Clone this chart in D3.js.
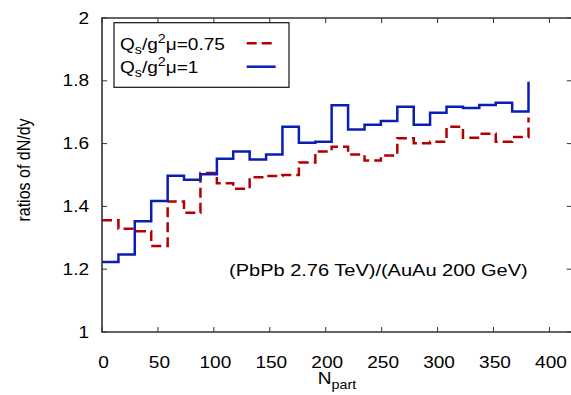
<!DOCTYPE html>
<html>
<head>
<meta charset="utf-8">
<script src="https://cdn.jsdelivr.net/npm/d3@7"></script>
<style>
  html, body { margin: 0; padding: 0; background: #fff; }
  svg { display: block; font-family: "Liberation Sans", Arial, sans-serif; }
</style>
</head>
<body>
<svg id="chart" width="571" height="395"></svg>
<script>
// ---- data ----
const npartEdges = [0, 14.7, 29.3, 44, 58.7, 73.3, 88, 102.7, 117.3, 132, 146.7, 161.3, 176,
  190.7, 205.3, 220, 234.7, 249.3, 264, 278.7, 293.3, 308, 322.7, 337.3, 352, 366.7, 381.3];
const ratioQs075 = [1.356, 1.329, 1.321, 1.274, 1.416, 1.380, 1.506, 1.474, 1.456, 1.493, 1.497,
  1.500, 1.540, 1.575, 1.590, 1.565, 1.546, 1.562, 1.617, 1.601, 1.606, 1.654, 1.619, 1.631,
  1.606, 1.621, 1.683];
const ratioQs1 = [1.223, 1.247, 1.353, 1.417, 1.498, 1.485, 1.502, 1.552, 1.575, 1.549, 1.565,
  1.654, 1.603, 1.606, 1.722, 1.645, 1.660, 1.672, 1.717, 1.660, 1.698, 1.717, 1.713, 1.723,
  1.730, 1.702, 1.797];
const xTicks = [0, 50, 100, 150, 200, 250, 300, 350, 400];
const yTicks = [1, 1.2, 1.4, 1.6, 1.8, 2];
const seriesNames = ["0.75", "1"];

// ---- layout ----
const svg = d3.select("#chart");
const x = d3.scaleLinear().domain([0, 420]).range([102, 571.8]);
const y = d3.scaleLinear().domain([1, 2]).range([332, 18]);
const frameColor = "#333";
const redColor = "#b40000";
const blueColor = "#0a1eb4";
const SX = 1.19; // horizontal stretch of the lettering

function label(px, py, anchor, size, sx) {
  return svg.append("g").attr("transform", `translate(${px},${py}) scale(${sx || SX},1)`)
    .append("text").attr("x", 0).attr("y", 0).attr("text-anchor", anchor || "start")
    .attr("font-size", size || 16).attr("fill", "#000");
}

// ticks (inward, mirrored)
const tickLen = 5;
const tg = svg.append("g").attr("stroke", frameColor).attr("stroke-width", 1);
xTicks.forEach(t => {
  tg.append("line").attr("x1", x(t)).attr("x2", x(t)).attr("y1", y(1)).attr("y2", y(1) - tickLen);
  tg.append("line").attr("x1", x(t)).attr("x2", x(t)).attr("y1", y(2)).attr("y2", y(2) + tickLen);
});
yTicks.forEach(t => {
  tg.append("line").attr("x1", x(0)).attr("x2", x(0) + tickLen).attr("y1", y(t)).attr("y2", y(t));
  tg.append("line").attr("x1", x(420)).attr("x2", x(420) - tickLen).attr("y1", y(t)).attr("y2", y(t));
});

// tick labels
xTicks.forEach(d => label(x(d) + 1.5, 367.5, "middle").text(d));
yTicks.forEach(d => label(89, y(d), "end").attr("dy", "0.35em").text(d3.format("")(d)));

// step lines
const line = d3.line().curve(d3.curveStepAfter).x(d => x(d[0])).y(d => y(d[1]));
svg.append("path")
  .datum(npartEdges.map((n, i) => [n, ratioQs075[i]]))
  .attr("d", line).attr("fill", "none").attr("stroke", redColor)
  .attr("stroke-width", 2.5).attr("stroke-dasharray", "10,5");
svg.append("path")
  .datum(npartEdges.map((n, i) => [n, ratioQs1[i]]))
  .attr("d", line).attr("fill", "none").attr("stroke", blueColor)
  .attr("stroke-width", 2.5);

// frame (left, bottom, top)
svg.append("path")
  .attr("d", `M${x(420) + 2},${y(2)}H${x(0)}V${y(1)}H${x(420) + 2}`)
  .attr("fill", "none").attr("stroke", frameColor).attr("stroke-width", 1.6);

// legend
svg.append("rect").attr("x", 114).attr("y", 22.7).attr("width", 175).attr("height", 64.6)
  .attr("fill", "#fff").attr("stroke", "#111").attr("stroke-width", 1.2);
const legendRows = [
  { name: seriesNames[0], color: redColor, dash: "10,5", base: 49.5, ly: 43.3 },
  { name: seriesNames[1], color: blueColor, dash: null, base: 72.5, ly: 66.7 }
];
legendRows.forEach(r => {
  const t = label(120, r.base, "start");
  t.append("tspan").text("Q");
  t.append("tspan").attr("font-size", 12).attr("dy", 4.5).text("s");
  t.append("tspan").attr("dy", -4.5).text("/g");
  t.append("tspan").attr("font-size", 12).attr("dy", -7).text("2");
  t.append("tspan").attr("dy", 7).text("\u03bc=" + r.name);
  const l = svg.append("line").attr("x1", 246.7).attr("x2", 275.7).attr("y1", r.ly).attr("y2", r.ly)
    .attr("stroke", r.color).attr("stroke-width", 2.5);
  if (r.dash) l.attr("stroke-dasharray", r.dash);
});

// annotation
label(527.7, 275.5, "end", 16, 1.25).text("(PbPb 2.76 TeV)/(AuAu 200 GeV)");

// axis titles
const xt = label(337, 384, "middle");
xt.append("tspan").text("N");
xt.append("tspan").attr("font-size", 12).attr("dy", 5).text("part");

svg.append("text").attr("transform", `translate(30,170) scale(${SX},1) rotate(-90)`)
  .attr("text-anchor", "middle").attr("font-size", 16).attr("fill", "#000")
  .text("ratios of dN/dy");
</script>
</body>
</html>
